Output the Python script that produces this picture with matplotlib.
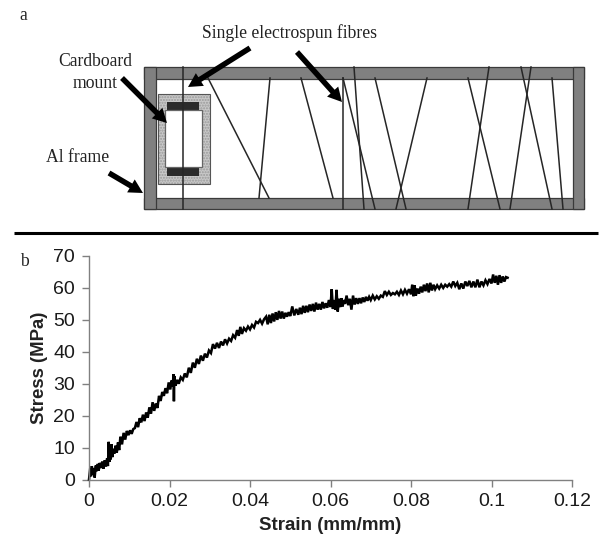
#!/usr/bin/env python3
"""Fibre mount schematic (a) and stress-strain curve of a single fibre (b)."""

import matplotlib
matplotlib.use("Agg")
import matplotlib.pyplot as plt
from matplotlib.patches import Rectangle, FancyArrow

W, H = 600, 541

# --- panel b data ---
strain = [0, .0003, .0005, .0007, .0009, .0012, .0014, .0017, .0019, .0022, .0024, .0027, .003, .0033, .0036,
          .0039, .0042, .0045, .0047, .0049, .0051, .0052, .0054, .0056, .0058, .006, .0063, .0066, .0069,
          .0072, .0075, .0078, .0082, .0086, .009, .0094, .0098, .0102, .0106, .011, .0114, .0118, .0122,
          .0126, .013, .0134, .0138, .0142, .0146, .015, .0154, .0158, .0162, .0166, .017, .0174, .0178,
          .0182, .0186, .019, .0194, .0198, .0202, .0205, .0208, .021, .0211, .0212, .0215, .0219, .0223,
          .0228, .0233, .0238, .0243, .0248, .0253, .0258, .0263, .0268, .0273, .0278, .0283, .0288, .0293,
          .0298, .0303, .0308, .0313, .0318, .0323, .0328, .0333, .0338, .0343, .0348, .0353, .0358, .0363,
          .0368, .0372, .0376, .038, .0385, .039, .0395, .04, .0405, .041, .0415, .042, .0425, .043, .0435,
          .044, .0444, .0448, .0452, .0456, .046, .0464, .0468, .0472, .0476, .048, .0484, .0488, .0492,
          .0496, .05, .0505, .051, .0515, .052, .0524, .0528, .0532, .0536, .054, .0544, .0548, .0552,
          .0556, .056, .0564, .0568, .0572, .0576, .058, .0584, .0588, .0592, .0596, .06, .0603, .0606,
          .0609, .0612, .0615, .0618, .0621, .0624, .0627, .063, .0633, .0636, .064, .0644, .0648, .0652,
          .0656, .066, .0664, .0668, .0672, .0676, .068, .0684, .0688, .0692, .0696, .07, .0705, .071,
          .0715, .072, .0725, .073, .0735, .074, .0745, .075, .0755, .076, .0765, .077, .0775, .078,
          .0785, .079, .0795, .08, .0803, .0806, .0809, .0812, .0816, .082, .0824, .0828, .0832, .0836,
          .084, .0844, .0848, .0852, .0856, .086, .0865, .087, .0875, .088, .0885, .089, .0895, .09,
          .0905, .091, .0915, .092, .0925, .093, .0935, .094, .0945, .095, .0955, .096, .0965, .097,
          .0975, .098, .0985, .099, .0995, .1, .1004, .1008, .1012, .1016, .102, .1024, .1028, .1032,
          .1036, .104]
stress = [0, 3.5, 1, 4.2, 1.5, 3.6, 0.6, 4.4, 2.6, 4.9, 2.8, 5.2, 3.6, 5.6, 3.4,
          6, 4.1, 6.6, 4.2, 11.8, 5.5, 10.6, 6.3, 11, 7, 9.6, 8.1, 10.6, 8.4,
          11.6, 9.2, 13.4, 11, 14.6, 12.5, 15.2, 13.9, 15.4, 14.3, 15.8, 16.1, 18, 16.4,
          19.2, 17.9, 20.3, 18.3, 21, 19.4, 22.6, 20.6, 24.2, 21.5, 23.8, 22.4, 26.2, 24.6,
          27.4, 26.2, 28.6, 27, 30.4, 28.2, 31, 29.2, 33, 24.5, 32.4, 29.4, 31.2, 30,
          32, 31.2, 33.2, 32, 35, 33.4, 36.6, 35, 37.8, 36.2, 38.8, 37.2, 39.4, 38.2,
          40.4, 39.6, 42.4, 41, 42.8, 41.2, 43.2, 42, 43.9, 42.6, 44.1, 43.4, 45.2, 44.4,
          46.8, 45, 47.8, 45.6, 47.4, 46.6, 47.9, 47, 48.4, 47.6, 49.4, 49, 50, 48.8, 50.2,
          51, 48.6, 51.6, 49, 52, 49.5, 52.4, 50, 52.8, 50.4, 52.6, 50.4, 52.2, 51,
          52.4, 51.2, 54.2, 51.4, 53.4, 51.6, 53.8, 51.8, 54.4, 52.2, 54.4, 52.4, 54.8, 52.8,
          55, 52.6, 55.4, 53.2, 55, 53.2, 55.6, 53.6, 55.2, 53.8, 56.2, 54, 59.6, 53.4,
          56.2, 53.2, 59.4, 52.6, 56.6, 54, 56.8, 54.2, 56.2, 55, 57.6, 54.6, 56.6, 53.2,
          57.6, 54.8, 56.8, 55, 56.8, 55.2, 57, 55.6, 57.2, 56, 57.2, 56.2, 57.6, 56.4,
          57.4, 56.6, 57.6, 57.2, 59, 57.8, 58.8, 57.8, 58.4, 58, 58.8, 57.8, 59.2, 58,
          59.4, 58.2, 59.6, 58, 61, 57.4, 60.8, 57.6, 59.8, 58.2, 60.4, 58.6, 61, 59,
          61.4, 58.6, 61.6, 59.2, 61, 59.6, 60.8, 59.8, 61, 60, 61, 60.4, 61.2, 60.4,
          62, 60.6, 61.6, 59.6, 61.4, 59.8, 62, 60.6, 62.2, 60.2, 62, 60.2, 62.6, 60.2,
          62, 60.8, 62.4, 61.2, 62.8, 61.4, 64.2, 61.6, 63.8, 61, 64, 61.6, 63.6, 62,
          63.4, 63.2]
x_ticks = [0, 0.02, 0.04, 0.06, 0.08, 0.1, 0.12]
x_tick_labels = ["0", "0.02", "0.04", "0.06", "0.08", "0.1", "0.12"]
y_ticks = [0, 10, 20, 30, 40, 50, 60, 70]

# --- panel a schematic, in picture pixels ---
fibres = [
    (183, 67, 183, 209), (208, 78, 269, 198), (270, 78, 259, 198),
    (301, 78, 333, 198), (343, 78, 343, 209), (343, 78, 375, 209),
    (354, 67, 364, 209), (375, 78, 406, 209), (427, 78, 396, 209),
    (468, 78, 500, 209), (489, 67, 468, 209), (521, 67, 552, 209),
    (531, 67, 510, 209), (552, 78, 563, 209),
]
arrows = [
    (250, 48, 188, 87), (297, 52, 342, 102),
    (122, 78, 167, 123), (109, 173, 143, 193),
]
labels = [
    ("a", 23, 15), ("b", 24, 262),
    ("Single electrospun fibres", 290, 33),
    ("Cardboard", 95, 61), ("mount", 95, 83), ("Al frame", 78, 158),
]

fig = plt.figure(figsize=(W / 100, H / 100), dpi=100)

# overlay in pixel coordinates for the drawing
ov = fig.add_axes([0, 0, 1, 1])
ov.set_xlim(0, W)
ov.set_ylim(H, 0)
ov.axis("off")

for x, y, w, h in [(144, 67, 440, 11.5), (144, 198, 440, 11), (144, 67, 11.5, 142), (572.5, 67, 11.5, 142)]:
    ov.add_patch(Rectangle((x, y), w, h, fc="#808080", ec="#3a3a3a", lw=0.9))
ov.add_patch(Rectangle((157.5, 93.5), 52, 90, fc="#c8c8c8", ec="#9a9a9a", lw=0, hatch="......"))
ov.add_patch(Rectangle((157.5, 93.5), 52, 90, fc="none", ec="#555555", lw=0.8))
ov.add_patch(Rectangle((167, 102), 32, 8, fc="#2b2b2b", ec="none", zorder=3))
ov.add_patch(Rectangle((167, 167), 32, 8.5, fc="#2b2b2b", ec="none", zorder=3))
ov.add_patch(Rectangle((165, 110), 37, 57, fc="white", ec="#666666", lw=0.9, zorder=3))

for x0, y0, x1, y1 in fibres:
    ov.plot([x0, x1], [y0, y1], color="#262626", lw=1.1, zorder=4)

for x0, y0, x1, y1 in arrows:
    ov.add_patch(FancyArrow(x0, y0, x1 - x0, y1 - y0, width=5.5, head_width=15,
                            head_length=14, length_includes_head=True,
                            fc="black", ec="none", zorder=5))

ov.plot([14, 598], [233, 233], color="black", lw=2.2, solid_capstyle="butt")

for text, x, y in labels:
    ov.text(x, y, text, family="Liberation Serif", fontsize=12.7, color="#222222",
            ha="center", va="center")

# stress-strain axes
x_left, x_right, y_top, y_bot = 89, 572, 256, 479.5
ax = fig.add_axes([x_left / W, 1 - y_bot / H, (x_right - x_left) / W, (y_bot - y_top) / H])
ax.patch.set_alpha(0)
ax.plot(strain, stress, color="black", lw=1.8, solid_joinstyle="miter", clip_on=False)
ax.set_xlim(0, 0.12)
ax.set_ylim(0, 70)
ax.set_xticks(x_ticks)
ax.set_xticklabels(x_tick_labels)
ax.set_yticks(y_ticks)
for side in ("top", "right"):
    ax.spines[side].set_visible(False)
for side in ("left", "bottom"):
    ax.spines[side].set_color("#808080")
    ax.spines[side].set_linewidth(1.0)
ax.tick_params(length=5, width=1.0, color="#808080", labelsize=14, labelcolor="#1a1a1a", pad=5)
for tl in ax.get_xticklabels() + ax.get_yticklabels():
    tl.set_family("Liberation Sans")
ax.set_xlabel("Strain (mm/mm)", family="Liberation Sans", fontsize=13.5,
              fontweight="bold", color="#222222", labelpad=5)
ax.set_ylabel("Stress (MPa)", family="Liberation Sans", fontsize=13.4,
              fontweight="bold", color="#222222", labelpad=4)

fig.savefig("out.png", dpi=100)
